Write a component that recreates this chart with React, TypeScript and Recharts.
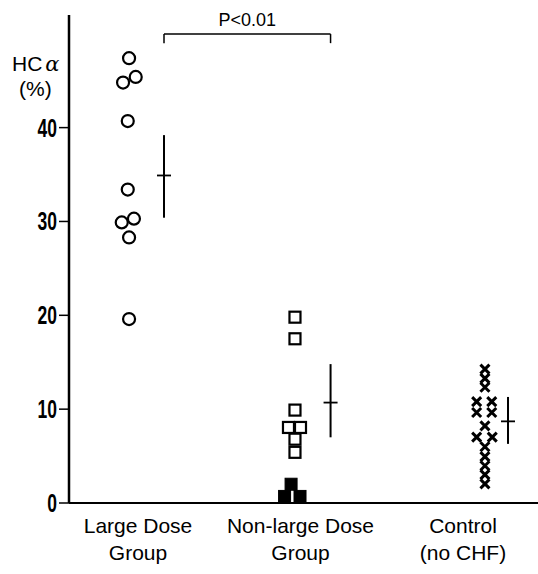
import React from 'react';
import {
  ErrorBar,
  ReferenceLine,
  Scatter,
  ScatterChart,
  XAxis,
  YAxis,
} from 'recharts';

// group positions on the x scale and their two-line labels
const categoryPos = [1, 2, 3];
const categoryLines = [
  ['Large Dose', 'Group'],
  ['Non-large Dose', 'Group'],
  ['Control', '(no CHF)'],
];
const yTicks = [0, 10, 20, 30, 40];

// individual patients, HCα (%)
const largeDose = [
  { x: 0.945, y: 47.4 },
  { x: 0.986, y: 45.4 },
  { x: 0.908, y: 44.8 },
  { x: 0.937, y: 40.7 },
  { x: 0.937, y: 33.4 },
  { x: 0.975, y: 30.3 },
  { x: 0.9, y: 29.9 },
  { x: 0.945, y: 28.3 },
  { x: 0.945, y: 19.6 },
];
const nonLargeOpen = [
  { x: 1.966, y: 19.8 },
  { x: 1.966, y: 17.5 },
  { x: 1.966, y: 9.9 },
  { x: 1.926, y: 8.05 },
  { x: 2.0, y: 8.05 },
  { x: 1.966, y: 6.8 },
  { x: 1.966, y: 5.4 },
];
const nonLargeFilled = [
  { x: 1.942, y: 2.0 },
  { x: 1.902, y: 0.7 },
  { x: 1.997, y: 0.7 },
];
const control = [
  { x: 3.135, y: 14.26 },
  { x: 3.135, y: 13.28 },
  { x: 3.135, y: 12.33 },
  { x: 3.084, y: 10.8 },
  { x: 3.177, y: 10.8 },
  { x: 3.084, y: 9.65 },
  { x: 3.177, y: 9.65 },
  { x: 3.135, y: 8.22 },
  { x: 3.084, y: 7.02 },
  { x: 3.18, y: 7.02 },
  { x: 3.135, y: 6.0 },
  { x: 3.135, y: 4.94 },
  { x: 3.135, y: 3.97 },
  { x: 3.135, y: 3.02 },
  { x: 3.135, y: 2.04 },
];
// mean with [down, up] spread
const means = [
  { x: 1.16, y: 34.9, err: [4.5, 4.3] },
  { x: 2.185, y: 10.7, err: [3.7, 4.1] },
  { x: 3.277, y: 8.7, err: [2.4, 2.6] },
];
const bracket = { from: 1.16, to: 2.185, y: 49.97, drop: 49.0, text: 'P<0.01' };

const sans = '"Liberation Sans", Arial, sans-serif';

const OpenCircle = (p: any) => (
  <circle cx={p.cx} cy={p.cy} r={6} fill="#fff" stroke="#000" strokeWidth={2.2} />
);
const OpenSquare = (p: any) => (
  <rect x={p.cx - 5.5} y={p.cy - 5.5} width={11} height={11} fill="#fff" stroke="#000" strokeWidth={2.2} />
);
const FilledSquare = (p: any) => (
  <rect x={p.cx - 6} y={p.cy - 6} width={12} height={12} fill="#000" stroke="#000" strokeWidth={1} />
);
const Cross = (p: any) => (
  <path
    d={`M${p.cx - 4.5},${p.cy - 4.5}L${p.cx + 4.5},${p.cy + 4.5}M${p.cx + 4.5},${p.cy - 4.5}L${p.cx - 4.5},${p.cy + 4.5}`}
    stroke="#000"
    strokeWidth={3}
    fill="none"
  />
);
const MeanTick = (p: any) => (
  <line x1={p.cx - 7} x2={p.cx + 7} y1={p.cy} y2={p.cy} stroke="#000" strokeWidth={1.8} />
);

const CategoryTick = ({ x, y, payload }: any) => {
  const lines = categoryLines[categoryPos.indexOf(payload.value)] || [];
  return (
    <text x={x} y={y} textAnchor="middle" fontFamily={sans} fontSize={21} fill="#000">
      {lines.map((l, k) => (
        <tspan key={k} x={x} dy={k === 0 ? 22 : 27}>
          {l}
        </tspan>
      ))}
    </text>
  );
};

// condensed bold numbers like the original print
const ValueTick = ({ x, y, payload }: any) => (
  <text
    transform={`translate(${x},${y}) scale(0.7,1)`}
    textAnchor="end"
    dy="0.36em"
    fontFamily={sans}
    fontWeight="bold"
    fontSize={25}
    fill="#000"
  >
    {payload.value}
  </text>
);

export default function App() {
  return (
    <div style={{ position: 'absolute', left: 0, top: 0, width: 538, height: 574, background: '#fff' }}>
      <ScatterChart width={538} height={574} margin={{ top: 15, right: 0, bottom: 0, left: 0 }}>
        <XAxis
          type="number"
          dataKey="x"
          domain={[0.57538, 3.46154]}
          ticks={categoryPos}
          tick={<CategoryTick />}
          tickLine={false}
          axisLine={{ stroke: '#000', strokeWidth: 2 }}
          height={71}
          interval={0}
        />
        <YAxis
          type="number"
          dataKey="y"
          domain={[0, 52]}
          ticks={yTicks}
          width={69}
          tickSize={10}
          tickMargin={2}
          tickLine={{ stroke: '#000', strokeWidth: 1.5 }}
          axisLine={{ stroke: '#000', strokeWidth: 2.5 }}
          tick={<ValueTick />}
        />
        <ReferenceLine
          segment={[
            { x: bracket.from, y: bracket.y },
            { x: bracket.to, y: bracket.y },
          ]}
          stroke="#000"
          strokeWidth={1.5}
          label={{ value: bracket.text, position: 'top', offset: 8, fill: '#000', fontFamily: sans, fontSize: 18 }}
        />
        <ReferenceLine
          segment={[
            { x: bracket.from, y: bracket.y },
            { x: bracket.from, y: bracket.drop },
          ]}
          stroke="#000"
          strokeWidth={1.5}
        />
        <ReferenceLine
          segment={[
            { x: bracket.to, y: bracket.y },
            { x: bracket.to, y: bracket.drop },
          ]}
          stroke="#000"
          strokeWidth={1.5}
        />
        <Scatter data={largeDose} shape={OpenCircle} isAnimationActive={false} />
        <Scatter data={nonLargeOpen} shape={OpenSquare} isAnimationActive={false} />
        <Scatter data={nonLargeFilled} shape={FilledSquare} isAnimationActive={false} />
        <Scatter data={control} shape={Cross} isAnimationActive={false} />
        <Scatter data={means} shape={MeanTick} isAnimationActive={false}>
          <ErrorBar dataKey="err" direction="y" width={0} stroke="#000" strokeWidth={2} />
        </Scatter>
      </ScatterChart>
      <div style={{ position: 'absolute', left: 12, top: 51, fontFamily: sans, fontSize: 21, lineHeight: '26px', color: '#000' }}>
        HC<span style={{ fontFamily: '"DejaVu Serif", serif', fontStyle: 'italic', marginLeft: 3 }}>α</span>
      </div>
      <div style={{ position: 'absolute', left: 19, top: 76, fontFamily: sans, fontSize: 21, lineHeight: '26px', color: '#000' }}>
        (%)
      </div>
    </div>
  );
}
